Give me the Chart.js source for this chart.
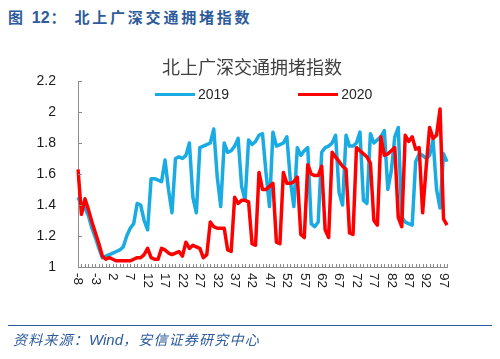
<!DOCTYPE html>
<html>
<head>
<meta charset="utf-8">
<script src="https://cdn.jsdelivr.net/npm/chart.js@4.4.1/dist/chart.umd.min.js"></script>
<style>
  body { margin: 0; background: #fff; }
  #wrap { position: relative; width: 500px; height: 359px; overflow: hidden; background: #fff; }
  #c { position: absolute; left: 0; top: 0; }
  #fig { position: absolute; left: 8px; top: 7px; font: bold 15px "Noto Sans CJK SC"; color: #2D5B9B; letter-spacing: 2.8px; line-height: 20px; white-space: nowrap; }
  #fig b { font: bold 16px "Liberation Sans"; letter-spacing: 0; margin: 0 1px 0 6px; }
  #fig .colon { margin-right: 6px; }
  #ctitle { position: absolute; left: 0; width: 504px; top: 55px; text-align: center; font: 18px "Noto Sans CJK SC"; color: #404040; line-height: 22px; }
  #legend { position: absolute; left: 155px; top: 85px; display: flex; gap: 69px; font: 14px "Liberation Sans"; color: #262626; line-height: 18px; }
  #legend .item { display: flex; align-items: center; }
  #legend .swatch { width: 40px; height: 3px; margin-right: 3px; }
  #rule { position: absolute; left: 8px; top: 325px; width: 484px; height: 1px; background: #2D5B9B; }
  #src { position: absolute; left: 13px; top: 330px; font: italic 14px "Noto Sans CJK SC"; color: #2D5B9B; letter-spacing: 1.2px; line-height: 18px; white-space: nowrap; }
  #src span { font: italic 15px "Liberation Sans"; letter-spacing: 0; }
</style>
</head>
<body>
<div id="wrap">
  <div id="fig">图<b>12</b><span class="colon">：</span>北上广深交通拥堵指数</div>
  <canvas id="c" width="500" height="359"></canvas>
  <div id="ctitle">北上广深交通拥堵指数</div>
  <div id="legend"></div>
  <div id="rule"></div>
  <div id="src">资料来源：<span>Wind</span>，安信证券研究中心</div>
</div>
<script>
// days relative to the Spring Festival
const days = [-8, -7, -6, -5, -4, -3, -2, -1, 0, 1, 2, 3, 4, 5, 6, 7, 8, 9, 10, 11,
  12, 13, 14, 15, 16, 17, 18, 19, 20, 21, 22, 23, 24, 25, 26, 27, 28, 29, 30, 31,
  32, 33, 34, 35, 36, 37, 38, 39, 40, 41, 42, 43, 44, 45, 46, 47, 48, 49, 50, 51,
  52, 53, 54, 55, 56, 57, 58, 59, 60, 61, 62, 63, 64, 65, 66, 67, 68, 69, 70, 71,
  72, 73, 74, 75, 76, 77, 78, 79, 80, 81, 82, 83, 84, 85, 86, 87, 88, 89, 90, 91,
  92, 93, 94, 95, 96, 97, 98]

const tickLabels = ['-8', '-3', '2', '7', '12', '17', '22', '27', '32', '37', '42',
  '47', '52', '57', '62', '67', '72', '77', '82', '87', '92', '97']

const congestion2019 = [1.45, 1.40, 1.38, 1.33, 1.25, 1.19, 1.12, 1.06, 1.07, 1.08,
  1.09, 1.10, 1.11, 1.13, 1.20, 1.25, 1.28, 1.41, 1.40, 1.30,
  1.24, 1.57, 1.57, 1.56, 1.55, 1.69, 1.50, 1.35, 1.70, 1.71,
  1.70, 1.72, 1.80, 1.45, 1.35, 1.77, 1.78, 1.79, 1.80, 1.89,
  1.58, 1.39, 1.80, 1.74, 1.75, 1.78, 1.83, 1.52, 1.43, 1.82,
  1.79, 1.81, 1.85, 1.86, 1.61, 1.39, 1.87, 1.78, 1.79, 1.80,
  1.84, 1.56, 1.39, 1.77, 1.72, 1.75, 1.77, 1.28, 1.26, 1.29,
  1.74, 1.77, 1.78, 1.80, 1.85, 1.48, 1.40, 1.85, 1.78, 1.78,
  1.80, 1.87, 1.43, 1.41, 1.86, 1.80, 1.82, 1.84, 1.88, 1.50,
  1.62, 1.84, 1.90, 1.32, 1.29, 1.28, 1.27, 1.68, 1.73, 1.72,
  1.70, 1.72, 1.82, 1.50, 1.38, 1.73, 1.68]

const congestion2020 = [1.63, 1.34, 1.44, 1.37, 1.29, 1.22, 1.15, 1.07, 1.05, 1.06,
  1.05, 1.04, 1.04, 1.04, 1.04, 1.04, 1.05, 1.06, 1.06, 1.08,
  1.12, 1.06, 1.05, 1.05, 1.12, 1.11, 1.09, 1.08, 1.09, 1.10,
  1.07, 1.16, 1.12, 1.14, 1.13, 1.12, 1.06, 1.08, 1.29, 1.26,
  1.25, 1.25, 1.25, 1.11, 1.10, 1.45, 1.41, 1.43, 1.43, 1.42,
  1.15, 1.14, 1.61, 1.50, 1.50, 1.52, 1.54, 1.16, 1.15, 1.61,
  1.54, 1.54, 1.55, 1.58, 1.21, 1.19, 1.66, 1.60, 1.59, 1.59,
  1.65, 1.24, 1.19, 1.74, 1.71, 1.68, 1.65, 1.63, 1.22, 1.21,
  1.77, 1.75, 1.73, 1.71, 1.67, 1.30, 1.27, 1.84, 1.72, 1.73,
  1.75, 1.77, 1.32, 1.26, 1.85, 1.81, 1.84, 1.76, 1.77, 1.35,
  1.64, 1.90, 1.83, 1.85, 2.02, 1.31, 1.27]

const axisColor = '#8c8c8c'

// inside tick marks + x labels rotated clockwise, like the Excel original
const axisDecor = {
  id: 'axisDecor',
  afterDraw(chart) {
    const { ctx, chartArea, scales: { x, y } } = chart
    ctx.save()
    ctx.strokeStyle = axisColor
    ctx.lineWidth = 1
    ctx.beginPath()
    x.ticks.forEach((t, i) => {
      const px = Math.round(x.getPixelForTick(i)) + 0.5
      ctx.moveTo(px, chartArea.bottom)
      ctx.lineTo(px, chartArea.bottom - 3)
    })
    y.ticks.forEach((t, i) => {
      const py = Math.round(y.getPixelForTick(i)) + 0.5
      ctx.moveTo(chartArea.left, py)
      ctx.lineTo(chartArea.left + 4, py)
    })
    ctx.stroke()

    ctx.fillStyle = '#1a1a1a'
    ctx.font = '13.5px "Liberation Sans"'
    ctx.textAlign = 'left'
    ctx.textBaseline = 'middle'
    days.forEach((d, i) => {
      if (!tickLabels.includes(String(d))) return
      ctx.save()
      ctx.translate(x.getPixelForTick(i), chartArea.bottom + 6)
      ctx.rotate(Math.PI / 2)
      ctx.fillText(String(d), 0, 0)
      ctx.restore()
    })
    ctx.restore()
  }
}

const chart = new Chart(document.getElementById('c'), {
  type: 'line',
  data: {
    labels: days.map(String),
    datasets: [
      { label: '2019', data: congestion2019, borderColor: '#1AABE3', backgroundColor: '#1AABE3', order: 1 },
      { label: '2020', data: congestion2020, borderColor: '#FF0000', backgroundColor: '#FF0000', order: 0 }
    ]
  },
  options: {
    responsive: false,
    animation: false,
    devicePixelRatio: 1,
    layout: { padding: { top: 81, right: 53, bottom: 0, left: 0 } },
    elements: {
      line: { borderWidth: 3.5, tension: 0, borderJoinStyle: 'round' },
      point: { radius: 0 }
    },
    plugins: {
      legend: { display: false },
      title: { display: false },
      tooltip: { enabled: false }
    },
    scales: {
      x: {
        grid: { display: false },
        border: { display: true, color: axisColor },
        ticks: { display: false, autoSkip: false },
        afterFit(s) { s.height = 92 }
      },
      y: {
        min: 1,
        max: 2.2,
        grid: { display: false },
        border: { display: true, color: axisColor },
        ticks: {
          stepSize: 0.2,
          padding: 14,
          color: '#1a1a1a',
          font: { family: '"Liberation Sans"', size: 14 },
          callback: v => String(+v.toFixed(1))
        },
        afterFit(s) { s.width = 78 }
      }
    }
  },
  plugins: [axisDecor]
})

// legend built from the datasets
const legend = document.getElementById('legend')
chart.data.datasets.forEach(ds => {
  const item = document.createElement('div')
  item.className = 'item'
  const sw = document.createElement('span')
  sw.className = 'swatch'
  sw.style.background = ds.borderColor
  const txt = document.createElement('span')
  txt.textContent = ds.label
  item.appendChild(sw)
  item.appendChild(txt)
  legend.appendChild(item)
})
</script>
</body>
</html>
